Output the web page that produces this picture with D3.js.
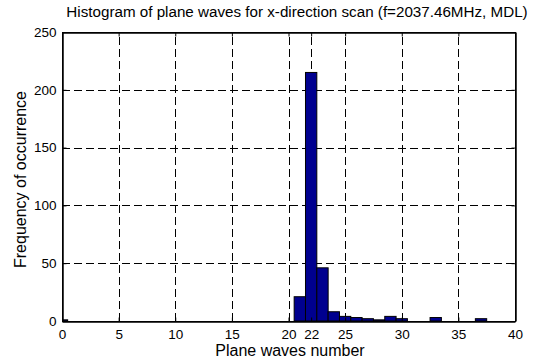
<html>
<head>
<style>
body { margin: 0; background: #fff; }
text { font-family: "Liberation Sans", Arial, sans-serif; fill: #000; }
</style>
</head>
<body>
<svg id="chart" width="539" height="363"></svg>
<script src="https://cdnjs.cloudflare.com/ajax/libs/d3/7.8.5/d3.min.js"></script>
<script>
// histogram bins (bin centre = plane waves number)
var binCentres = [0, 21, 22, 23, 24, 25, 26, 27, 28, 29, 30, 33, 37];
var binCounts  = [1, 21, 215, 46, 8, 4, 3, 2, 1, 4, 2, 3, 2];
var xTicks = [0, 5, 10, 15, 20, 22, 25, 30, 35, 40];
var yTicks = [0, 50, 100, 150, 200, 250];

var titleText = "Histogram of plane waves for x-direction scan (f=2037.46MHz, MDL)";
var xLabel = "Plane waves number";
var yLabel = "Frequency of occurrence";

var m = { left: 62, right: 515, top: 32, bottom: 321 };
var svg = d3.select("#chart");

var x = d3.scaleLinear().domain([0, 40]).range([m.left, m.right]);
var y = d3.scaleLinear().domain([0, 250]).range([m.bottom, m.top]);

// dashed grid
var grid = svg.append("g").attr("stroke", "#000").attr("stroke-width", 1)
    .attr("stroke-dasharray", "8,4");
grid.selectAll(".gx").data(xTicks.filter(function(d) { return d > 0 && d < 40; }))
    .enter().append("line")
    .attr("x1", function(d) { return Math.round(x(d)) + 0.5; })
    .attr("x2", function(d) { return Math.round(x(d)) + 0.5; })
    .attr("y1", m.bottom).attr("y2", m.top);
grid.selectAll(".gy").data(yTicks.filter(function(d) { return d > 0 && d < 250; }))
    .enter().append("line")
    .attr("y1", function(d) { return Math.round(y(d)) + 0.5; })
    .attr("y2", function(d) { return Math.round(y(d)) + 0.5; })
    .attr("x1", m.left).attr("x2", m.right);

// bars
svg.append("clipPath").attr("id", "plot").append("rect")
    .attr("x", m.left).attr("y", m.top)
    .attr("width", m.right - m.left).attr("height", m.bottom - m.top);

svg.append("g").attr("clip-path", "url(#plot)")
    .selectAll("rect").data(binCentres).enter().append("rect")
    .attr("x", function(d) { return x(d - 0.5); })
    .attr("width", function(d) { return x(d + 0.5) - x(d - 0.5); })
    .attr("y", function(d, i) { return y(binCounts[i]); })
    .attr("height", function(d, i) { return y(0) - y(binCounts[i]); })
    .attr("fill", "#00008F")
    .attr("stroke", "#000")
    .attr("stroke-width", 1);

// box
svg.append("rect")
    .attr("x", m.left + 0.5).attr("y", m.top + 0.5)
    .attr("width", m.right - m.left).attr("height", m.bottom - m.top)
    .attr("fill", "none").attr("stroke", "#000").attr("stroke-width", 1);

// axes, ticks pointing inward
svg.append("g").attr("transform", "translate(0," + (m.bottom + 0.5) + ")")
    .call(d3.axisBottom(x).tickValues(xTicks).tickSizeInner(-4).tickSizeOuter(0).tickPadding(8));
svg.append("g").attr("transform", "translate(" + (m.left + 0.5) + ",0)")
    .call(d3.axisLeft(y).tickValues(yTicks).tickSizeInner(-4).tickSizeOuter(0).tickPadding(6));
svg.append("g").attr("transform", "translate(0," + (m.top + 0.5) + ")")
    .call(d3.axisTop(x).tickValues(xTicks).tickSizeInner(-4).tickSizeOuter(0).tickFormat(""));
svg.append("g").attr("transform", "translate(" + (m.right + 0.5) + ",0)")
    .call(d3.axisRight(y).tickValues(yTicks).tickSizeInner(-4).tickSizeOuter(0).tickFormat(""));

svg.selectAll(".domain").attr("stroke-width", 1.5);
svg.selectAll(".tick text").attr("font-size", 13.5)
    .attr("font-family", "Liberation Sans, Arial, sans-serif");

// labels
svg.append("text").attr("x", 297).attr("y", 17)
    .attr("text-anchor", "middle").attr("font-size", 15.2).text(titleText);
svg.append("text").attr("x", 290).attr("y", 356)
    .attr("text-anchor", "middle").attr("font-size", 16).text(xLabel);
svg.append("text").attr("transform", "translate(26," + ((m.top + m.bottom) / 2 + 3) + ") rotate(-90)")
    .attr("text-anchor", "middle").attr("font-size", 16).text(yLabel);
</script>
</body>
</html>
